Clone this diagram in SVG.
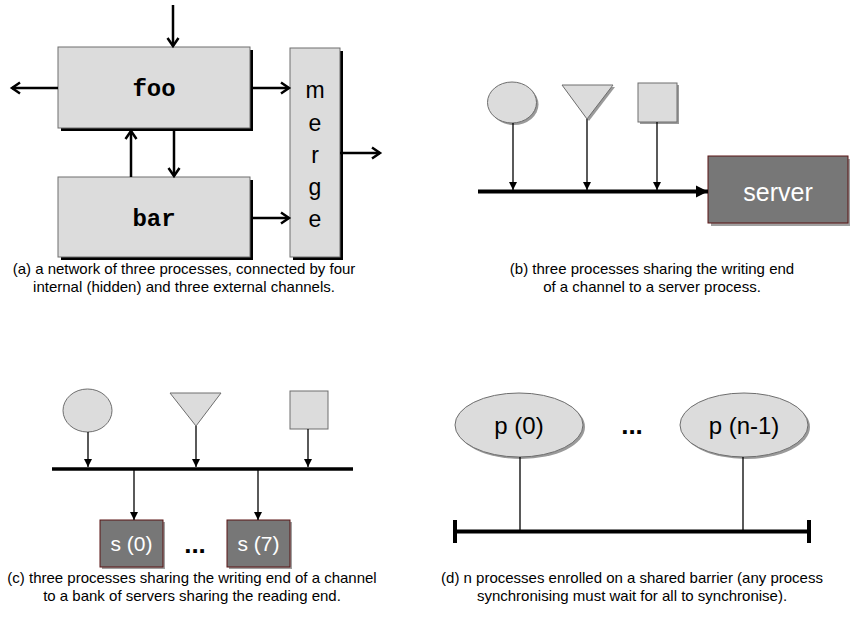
<svg xmlns="http://www.w3.org/2000/svg" width="850" height="633" viewBox="0 0 850 633">
<defs>
<style>
.box{fill:#dcdcdc;stroke:#6e6e6e;stroke-width:1}
.sh{fill:#000}
.gsh{fill:#9a9a9a}
.mono{font-family:"Liberation Mono","Courier New",monospace;font-weight:bold;font-size:24px;fill:#000;text-anchor:middle}
.sans{font-family:"Liberation Sans",Arial,Helvetica,sans-serif;fill:#000;text-anchor:middle}
.cap{font-family:"Liberation Sans",Arial,Helvetica,sans-serif;font-size:15px;fill:#000;text-anchor:middle}
.srv{fill:#777777;stroke:#5a1414;stroke-width:1}
.wt{font-family:"Liberation Sans",Arial,Helvetica,sans-serif;fill:#fff;text-anchor:middle}
.ch{stroke:#000;stroke-width:2.5;fill:none}
.thin{stroke:#000;stroke-width:1.3;fill:none}
.bus{stroke:#000;stroke-width:4;fill:none}
.dots{font-family:"Liberation Sans",Arial,sans-serif;font-weight:bold;font-size:26px;fill:#000;text-anchor:middle}
</style>
<marker id="open" markerUnits="userSpaceOnUse" markerWidth="14" markerHeight="14" refX="11" refY="7" orient="auto">
<path d="M3,1.5 L11,7 L3,12.5" fill="none" stroke="#000" stroke-width="2.5"/>
</marker>
<marker id="fill" markerUnits="userSpaceOnUse" markerWidth="10" markerHeight="10" refX="8" refY="5" orient="auto">
<path d="M0,1 L8,5 L0,9 Z" fill="#000"/>
</marker>
<marker id="big" markerUnits="userSpaceOnUse" markerWidth="14" markerHeight="14" refX="12" refY="7" orient="auto">
<path d="M0,1 L12,7 L0,13 Z" fill="#000"/>
</marker>
</defs>

<!-- Panel (a) -->
<g id="foo">
<rect class="sh" x="61" y="50" width="192" height="81"/>
<rect class="box" x="58" y="47" width="192" height="81"/>
<text class="mono" x="154" y="96">foo</text>
</g>
<g id="bar">
<rect class="sh" x="61" y="180" width="192" height="80"/>
<rect class="box" x="58" y="177" width="192" height="80"/>
<text class="mono" x="154" y="226">bar</text>
</g>
<g id="merge">
<rect class="sh" x="293" y="51" width="50" height="209"/>
<rect class="box" x="290" y="48" width="50" height="209"/>
<text class="sans" font-size="23" x="315" y="98">m</text>
<text class="sans" font-size="23" x="315" y="131">e</text>
<text class="sans" font-size="23" x="315" y="163">r</text>
<text class="sans" font-size="23" x="315" y="195">g</text>
<text class="sans" font-size="23" x="315" y="227">e</text>
</g>

<!-- Panel (b) -->
<g id="b-circle">
<ellipse class="gsh" cx="514" cy="104.5" rx="24.5" ry="20.5"/>
<ellipse class="box" cx="512" cy="102.5" rx="24.5" ry="20.5"/>
</g>
<g id="b-triangle">
<polygon class="gsh" points="564,87 615,87 589,121"/>
<polygon class="box" points="562,85 613,85 587,119"/>
</g>
<g id="b-square">
<rect class="gsh" x="640" y="85" width="39" height="39"/>
<rect class="box" x="638" y="83" width="39" height="39"/>
</g>
<g id="server">
<rect fill="#a0a0a0" x="711" y="159" width="140" height="67"/>
<rect class="srv" x="708" y="156" width="140" height="67"/>
<text class="wt" font-size="25" x="778" y="201">server</text>
</g>

<!-- Panel (c) -->
<g id="c-circle">
<ellipse class="box" cx="87.5" cy="410.5" rx="24.5" ry="21.5"/>
</g>
<g id="c-triangle">
<polygon class="box" points="170,393 221,393 196,426"/>
</g>
<g id="c-square">
<rect class="box" x="290" y="391" width="38" height="38"/>
</g>
<g id="s0">
<rect fill="#a0a0a0" x="102" y="522" width="63" height="47"/>
<rect class="srv" x="100" y="520" width="63" height="47"/>
<text class="wt" font-size="21" x="131.5" y="551">s (0)</text>
</g>
<g id="s7">
<rect fill="#a0a0a0" x="229" y="522" width="63" height="47"/>
<rect class="srv" x="227" y="520" width="63" height="47"/>
<text class="wt" font-size="21" x="258.5" y="551">s (7)</text>
</g>
<text class="dots" x="195" y="553">...</text>

<!-- Panel (d) -->
<g id="p0">
<ellipse class="gsh" cx="521" cy="427" rx="64" ry="32"/>
<ellipse class="box" cx="519" cy="425" rx="64" ry="32"/>
<text class="sans" font-size="24" x="519" y="434">p (0)</text>
</g>
<g id="pn1">
<ellipse class="gsh" cx="746" cy="427" rx="64" ry="32"/>
<ellipse class="box" cx="744" cy="425" rx="64" ry="32"/>
<text class="sans" font-size="24" x="744" y="434">p (n-1)</text>
</g>
<text class="dots" x="632" y="434">...</text>

<g id="connectors">
<!-- (a) -->
<line class="ch" x1="173" y1="5" x2="173" y2="46" marker-end="url(#open)"/>
<line class="ch" x1="58" y1="88" x2="12" y2="88" marker-end="url(#open)"/>
<line class="ch" x1="253" y1="88" x2="289" y2="88" marker-end="url(#open)"/>
<line class="ch" x1="340" y1="153" x2="380" y2="153" marker-end="url(#open)"/>
<line class="ch" x1="131" y1="177" x2="131" y2="131" marker-end="url(#open)"/>
<line class="ch" x1="174" y1="131" x2="174" y2="176" marker-end="url(#open)"/>
<line class="ch" x1="253" y1="218" x2="289" y2="218" marker-end="url(#open)"/>
<!-- (b) -->
<line class="thin" x1="513" y1="123" x2="513" y2="190" marker-end="url(#fill)"/>
<line class="thin" x1="587" y1="119" x2="587" y2="190" marker-end="url(#fill)"/>
<line class="thin" x1="657" y1="122" x2="657" y2="190" marker-end="url(#fill)"/>
<line class="bus" x1="478" y1="191.5" x2="708" y2="191.5" marker-end="url(#big)"/>
<!-- (c) -->
<line class="thin" x1="88" y1="432" x2="88" y2="467" marker-end="url(#fill)"/>
<line class="thin" x1="196" y1="426" x2="196" y2="467" marker-end="url(#fill)"/>
<line class="thin" x1="308" y1="429" x2="308" y2="467" marker-end="url(#fill)"/>
<line class="bus" x1="52" y1="469" x2="353" y2="469" style="stroke-width:3.5"/>
<line class="thin" x1="134" y1="469" x2="134" y2="520" marker-end="url(#fill)"/>
<line class="thin" x1="258" y1="469" x2="258" y2="520" marker-end="url(#fill)"/>
<!-- (d) -->
<line class="thin" x1="520" y1="457" x2="520" y2="531"/>
<line class="thin" x1="743" y1="457" x2="743" y2="531"/>
<line class="bus" x1="455" y1="531.5" x2="809" y2="531.5"/>
<line class="bus" x1="455" y1="520" x2="455" y2="543"/>
<line class="bus" x1="809" y1="520" x2="809" y2="543"/>
</g>

<g id="captions">
<text class="cap" x="184" y="274">(a) a network of three processes, connected by four</text>
<text class="cap" x="184" y="292">internal (hidden) and three external channels.</text>
<text class="cap" x="652" y="274">(b) three processes sharing the writing end</text>
<text class="cap" x="652" y="292">of a channel to a server process.</text>
<text class="cap" x="192" y="583">(c) three processes sharing the writing end of a channel</text>
<text class="cap" x="192" y="601">to a bank of servers sharing the reading end.</text>
<text class="cap" x="632" y="583">(d) n processes enrolled on a shared barrier (any process</text>
<text class="cap" x="632" y="601">synchronising must wait for all to synchronise).</text>
</g>
</svg>
